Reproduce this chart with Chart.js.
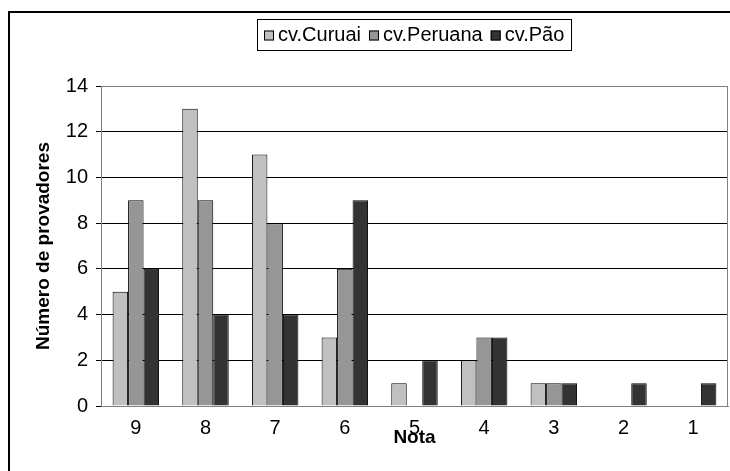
<!DOCTYPE html>
<html><head><meta charset="utf-8">
<script src="https://cdn.jsdelivr.net/npm/chart.js@4/dist/chart.umd.min.js"></script>
<style>html,body{margin:0;padding:0;background:#fff}#wrap{width:730px;height:471px}</style>
</head><body><div id="wrap"><canvas id="c" width="730" height="471"></canvas></div>
<script>
const categories = ['9','8','7','6','5','4','3','2','1'];
const seriesNames = ['cv.Curuai','cv.Peruana','cv.Pão'];
const curuai  = [5,13,11,3,1,2,1,0,0];
const peruana = [9,9,8,6,0,3,1,0,0];
const pao     = [6,4,4,9,2,3,1,1,1];
const yTicks  = [0,2,4,6,8,10,12,14];
const xTitle = 'Nota';
const yTitle = 'Número de provadores';

const FONT = "'Liberation Sans', Arial, sans-serif";
const colors = ['#c0c0c0','#969696','#333333'];

const decor = {
  id:'decor',
  afterDraw(chart){
    const ctx = chart.ctx, a = chart.chartArea;
    ctx.save();
    // plot area border
    ctx.strokeStyle = '#808080'; ctx.lineWidth = 1;
    ctx.strokeRect(a.left+0.5, a.top+0.5, a.right-a.left-1, a.bottom-a.top);
    // outer border
    ctx.strokeStyle = '#000'; ctx.lineWidth = 2;
    ctx.strokeRect(9, 12, 740, 480);
    // axis titles
    ctx.fillStyle = '#000';
    ctx.font = "bold 19px " + FONT;
    ctx.textAlign = 'center'; ctx.textBaseline = 'middle';
    ctx.fillText(xTitle, (a.left+a.right)/2, 438);
    ctx.save();
    ctx.translate(44, (a.top+a.bottom)/2);
    ctx.rotate(-Math.PI/2);
    ctx.fillText(yTitle, 0, 0);
    ctx.restore();
    // legend
    ctx.font = "20px " + FONT;
    const ds = chart.data.datasets;
    const sq = 10, gapSq = 4, gapItem = 8, pad = 7;
    let total = 0;
    const widths = ds.map(d => ctx.measureText(d.label).width);
    widths.forEach(w => total += sq + gapSq + w);
    total += gapItem*(ds.length-1) + pad*2;
    const cx = (a.left+a.right)/2;
    const lx = Math.round(cx - total/2), ly = 19, lh = 31;
    ctx.strokeStyle = '#000'; ctx.lineWidth = 1;
    ctx.strokeRect(lx+0.5, ly+0.5, Math.round(total), lh);
    let x = lx + pad;
    const ym = ly + lh/2 + 1;
    ds.forEach((d,i) => {
      ctx.fillStyle = d.backgroundColor;
      ctx.fillRect(x, ym-sq/2, sq, sq);
      ctx.strokeStyle = '#000';
      ctx.strokeRect(x+0.5, ym-sq/2+0.5, sq-1, sq-1);
      x += sq + gapSq;
      ctx.fillStyle = '#000'; ctx.textAlign = 'left';
      ctx.fillText(d.label, x, ym);
      x += widths[i] + gapItem;
    });
    ctx.restore();
  }
};

const series = [curuai, peruana, pao];
new Chart(document.getElementById('c'), {
  type:'bar',
  data:{
    labels: categories,
    datasets: series.map((s,i)=>({
      label: seriesNames[i], data: s,
      backgroundColor: colors[i], borderColor:'#000', borderWidth:1,
      categoryPercentage: 0.667, barPercentage: 1
    }))
  },
  options:{
    responsive:false, animation:false, devicePixelRatio:1,
    layout:{padding:{top:86, right:2, left:0, bottom:0}},
    plugins:{legend:{display:false}, tooltip:{enabled:false}},
    scales:{
      x:{
        grid:{display:false},
        border:{display:true, color:'#808080'},
        ticks:{color:'#000', font:{family:FONT, size:20}, padding:2},
        afterFit(s){ s.height = 65; }
      },
      y:{
        min:0, max:14,
        afterBuildTicks(s){ s.ticks = yTicks.map(v=>({value:v})); },
        grid:{color:(c)=> c.tick && c.tick.value===14 ? '#808080' : '#000', tickLength:5, tickColor:'#000'},
        border:{display:true, color:'#808080'},
        ticks:{color:'#000', font:{family:FONT, size:20}, padding:8},
        afterFit(s){ s.width = 101; }
      }
    }
  },
  plugins:[decor]
});
</script></body></html>
